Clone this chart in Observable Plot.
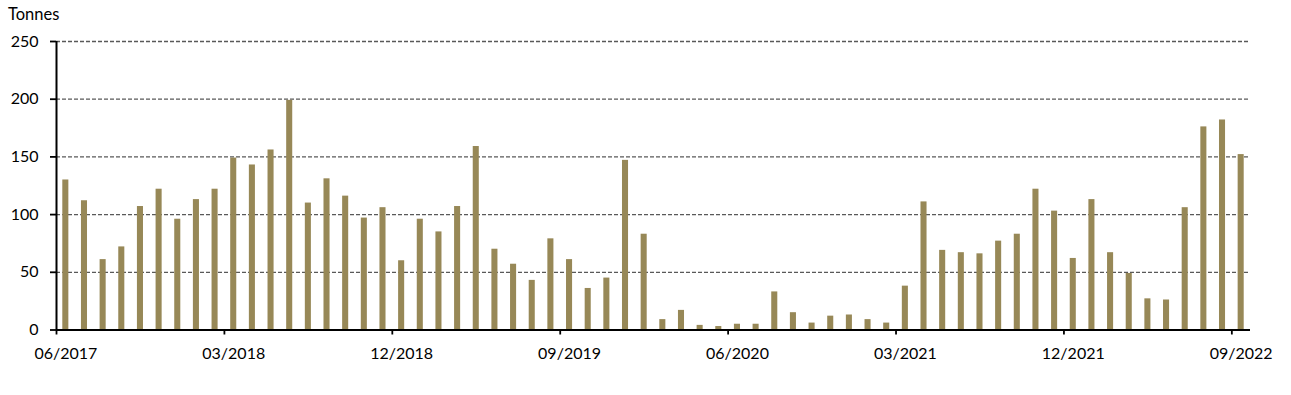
<!DOCTYPE html>
<html>
<head>
<meta charset="utf-8">
<script src="https://cdn.jsdelivr.net/npm/d3@7"></script>
<script src="https://cdn.jsdelivr.net/npm/@observablehq/plot@0.6"></script>
<style>
  html, body { margin: 0; padding: 0; background: #fff; }
  #unit { font-family: Lato, "Open Sans", sans-serif; font-size: 16.5px; color: #000;
          height: 22px; line-height: 24px; padding-top: 2px; padding-left: 8px; }
  #chart svg { display: block; }
</style>
</head>
<body>
<div id="unit">Tonnes</div>
<div id="chart"></div>
<script>
// Monthly categories 06/2017 .. 09/2022
const months = [
  "06/2017","07/2017","08/2017","09/2017","10/2017","11/2017","12/2017",
  "01/2018","02/2018","03/2018","04/2018","05/2018","06/2018","07/2018","08/2018","09/2018","10/2018","11/2018","12/2018",
  "01/2019","02/2019","03/2019","04/2019","05/2019","06/2019","07/2019","08/2019","09/2019","10/2019","11/2019","12/2019",
  "01/2020","02/2020","03/2020","04/2020","05/2020","06/2020","07/2020","08/2020","09/2020","10/2020","11/2020","12/2020",
  "01/2021","02/2021","03/2021","04/2021","05/2021","06/2021","07/2021","08/2021","09/2021","10/2021","11/2021","12/2021",
  "01/2022","02/2022","03/2022","04/2022","05/2022","06/2022","07/2022","08/2022","09/2022"
];
// Tonnes per month
const tonnes = [
  130, 112, 61, 72, 107, 122, 96, 113, 122, 149,
  143, 156, 199, 110, 131, 116, 97, 106, 60, 96,
  85, 107, 159, 70, 57, 43, 79, 61, 36, 45,
  147, 83, 9, 17, 4, 3, 5, 5, 33, 15,
  6, 12, 13, 9, 6, 38, 111, 69, 67, 66,
  77, 83, 122, 103, 62, 113, 67, 49, 27, 26,
  106, 176, 182, 152
];
const tickLabels = ["06/2017","03/2018","12/2018","09/2019","06/2020","03/2021","12/2021","09/2022"];
const yTicks = [0, 50, 100, 150, 200, 250];

const data = months.map((m, i) => ({i, month: m, value: tonnes[i]}));
const xTicks = tickLabels.map(l => months.indexOf(l));          // tick marks at category start
const xLabelPos = xTicks.map(i => i + 0.5);                      // labels centred on category

const barColor = "#978857";

const chart = Plot.plot({
  width: 1291,
  height: 371,
  marginLeft: 56,
  marginRight: 41,
  marginTop: 17,
  marginBottom: 65.5,
  style: {fontFamily: "Lato, 'Open Sans', sans-serif", fontSize: "16px", color: "#000", background: "#fff"},
  x: {type: "linear", domain: [0, months.length]},
  y: {domain: [0, 250]},
  marks: [
    Plot.gridY(yTicks.filter(d => d > 0), {stroke: "#595959", strokeOpacity: 1, strokeWidth: 1.3, strokeDasharray: "4,2"}),
    Plot.rectY(data, {x1: "i", x2: d => d.i + 1, y: "value", insetLeft: 6.3, insetRight: 6.3, fill: barColor}),
    Plot.ruleY([0], {stroke: "#000", strokeWidth: 1.8}),
    Plot.ruleX([0], {y1: 0, y2: 250, stroke: "#000", strokeWidth: 2}),
    Plot.axisY(yTicks, {tickSize: 6, tickPadding: 12, label: null, strokeWidth: 1.8, fill: "#000"}),
    Plot.axisX(xTicks, {tickSize: 5, label: null, strokeWidth: 1.8, tickFormat: () => ""}),
    Plot.axisX(xLabelPos, {tickSize: 0, tickPadding: 18, label: null, fill: "#000",
      tickFormat: v => months[Math.round(v - 0.5)]})
  ]
});
document.getElementById("chart").appendChild(chart);
</script>
</body>
</html>
